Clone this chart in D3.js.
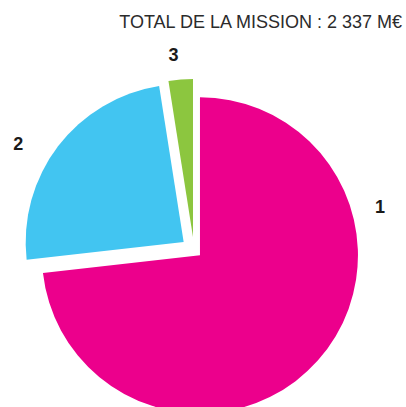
<!DOCTYPE html>
<html>
<head>
<meta charset="utf-8">
<script src="https://cdn.jsdelivr.net/npm/d3@7"></script>
<style>
  body { margin: 0; background: #fff; }
  svg { display: block; }
</style>
</head>
<body>
<div id="chart"></div>
<script>
// values in M€
const labels = ["1", "2", "3"];
const values = [1711, 568, 58];
const title = "TOTAL DE LA MISSION : 2 337 M€";

const colors = ["#ec008c", "#42c5f1", "#8cc63f"];
const explode = [8, 13, 13];           // px along each slice bisector
const labelAngle = [77, 301, 354];     // degrees, clockwise from 12 o'clock
const labelRadius = [191, 205, 196];

const width = 406, height = 407;
const radius = 158;
const cx = 194, cy = 250;

const svg = d3.select("#chart")
    .append("svg")
    .attr("width", width)
    .attr("height", height);

svg.append("text")
    .attr("x", 402)
    .attr("y", 28)
    .attr("text-anchor", "end")
    .attr("font-family", "Liberation Sans, Arial, sans-serif")
    .attr("font-size", "18px")
    .attr("fill", "#2b2b2b")
    .text(title);

const pie = d3.pie().sort(null).value(d => d);
const arcs = pie(values);

const arc = d3.arc().innerRadius(0).outerRadius(radius);

const g = svg.append("g")
    .attr("transform", `translate(${cx},${cy})`);

g.selectAll("path")
    .data(arcs)
    .enter()
    .append("path")
    .attr("d", arc)
    .attr("fill", (d, i) => colors[i])
    .attr("transform", (d, i) => {
        const a = (d.startAngle + d.endAngle) / 2;
        return `translate(${explode[i] * Math.sin(a)},${-explode[i] * Math.cos(a)})`;
    });

g.selectAll("text.lbl")
    .data(arcs)
    .enter()
    .append("text")
    .attr("class", "lbl")
    .attr("x", (d, i) => labelRadius[i] * Math.sin(labelAngle[i] * Math.PI / 180))
    .attr("y", (d, i) => -labelRadius[i] * Math.cos(labelAngle[i] * Math.PI / 180))
    .attr("text-anchor", "middle")
    .attr("dominant-baseline", "central")
    .attr("font-family", "Liberation Sans, Arial, sans-serif")
    .attr("font-weight", "bold")
    .attr("font-size", "18px")
    .attr("fill", "#1a1a1a")
    .text((d, i) => labels[i]);
</script>
</body>
</html>
